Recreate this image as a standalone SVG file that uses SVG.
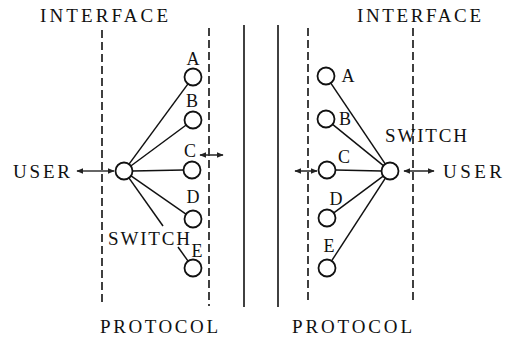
<svg xmlns="http://www.w3.org/2000/svg" width="510" height="339" viewBox="0 0 510 339">
<style>
text{font-family:"Liberation Serif","DejaVu Serif",serif;fill:#111;}
.lbl{font-size:19px;}
.let{font-size:18px;text-anchor:middle;}
.dash{stroke:#111;stroke-width:1.6;stroke-dasharray:8 4;fill:none;}
.wall{stroke:#111;stroke-width:1.6;fill:none;}
.node{fill:#fff;stroke:#111;stroke-width:1.8;}
.ln{stroke:#111;stroke-width:1.5;fill:none;}
.arr{stroke:#333;stroke-width:1.6;fill:none;marker-start:url(#ah);marker-end:url(#ah);}
</style>
<defs>
<marker id="ah" viewBox="0 0 10 10" refX="9" refY="5" markerWidth="7" markerHeight="6" markerUnits="userSpaceOnUse" orient="auto-start-reverse" preserveAspectRatio="none">
<path d="M0,0 L10,5 L0,10 Z" fill="#222"/>
</marker>
</defs>
<rect width="510" height="339" fill="#fff"/>
<g id="boundaries">
<line class="dash" x1="102" y1="30" x2="102" y2="306"/>
<line class="dash" x1="209" y1="28" x2="209" y2="306"/>
<line class="wall" x1="244" y1="25" x2="244" y2="307"/>
<line class="wall" x1="278" y1="25" x2="278" y2="307"/>
<line class="dash" x1="308" y1="28" x2="308" y2="304"/>
<line class="dash" x1="413" y1="28" x2="413" y2="304"/>
</g>
<g id="labels">
<text class="lbl" x="40" y="22" textLength="128" lengthAdjust="spacing">INTERFACE</text>
<text class="lbl" x="357" y="22" textLength="124" lengthAdjust="spacing">INTERFACE</text>
<text class="lbl" x="100" y="333" textLength="118" lengthAdjust="spacing">PROTOCOL</text>
<text class="lbl" x="292" y="333" textLength="120" lengthAdjust="spacing">PROTOCOL</text>
<text class="lbl" x="13" y="178" textLength="57" lengthAdjust="spacing">USER</text>
<text class="lbl" x="443" y="178" textLength="59" lengthAdjust="spacing">USER</text>
</g>
<g id="connectors">
<line class="ln" x1="129" y1="164.1" x2="188" y2="83.9"/>
<line class="ln" x1="130.8" y1="166" x2="186.2" y2="125"/>
<line class="ln" x1="132.5" y1="171" x2="183.5" y2="170" stroke-width="2"/>
<line class="ln" x1="131" y1="175.9" x2="186" y2="214.1"/>
<line class="ln" x1="128.9" y1="177.9" x2="163" y2="226"/>
<line class="ln" x1="178" y1="247" x2="188.1" y2="261.1"/>
<line class="ln" x1="385.2" y1="163.9" x2="330.8" y2="83.1"/>
<line class="ln" x1="383.4" y1="165.6" x2="332.6" y2="124.4"/>
<line class="ln" x1="381.5" y1="171" x2="335.5" y2="170.1"/>
<line class="ln" x1="383.2" y1="176.1" x2="333.8" y2="212.9"/>
<line class="ln" x1="385.4" y1="178.1" x2="331.6" y2="260.9"/>
<line class="arr" x1="77" y1="171" x2="114" y2="171"/>
<line class="arr" x1="200" y1="155" x2="223" y2="155"/>
<line class="arr" x1="295" y1="171" x2="317" y2="171"/>
<line class="arr" x1="404" y1="171" x2="434" y2="171"/>
</g>
<g id="switch-left">
<circle class="node" cx="124" cy="171" r="8.5"/>
<text class="lbl" x="108" y="245" textLength="82" lengthAdjust="spacing">SWITCH</text>
</g>
<g id="node-left-A"><circle class="node" cx="193" cy="77" r="8.5"/><text class="let" x="193" y="65">A</text></g>
<g id="node-left-B"><circle class="node" cx="193" cy="120" r="8.5"/><text class="let" x="192" y="107">B</text></g>
<g id="node-left-C"><circle class="node" cx="192" cy="170" r="8.5"/><text class="let" x="190" y="157">C</text></g>
<g id="node-left-D"><circle class="node" cx="193" cy="219" r="8.5"/><text class="let" x="193" y="203">D</text></g>
<g id="node-left-E"><circle class="node" cx="193" cy="268" r="8.5"/><text class="let" x="197" y="257">E</text></g>
<g id="switch-right">
<circle class="node" cx="390" cy="171" r="8.5"/>
<text class="lbl" x="385" y="142" textLength="82" lengthAdjust="spacing">SWITCH</text>
</g>
<g id="node-right-A"><circle class="node" cx="326" cy="76" r="8.5"/><text class="let" x="348" y="82">A</text></g>
<g id="node-right-B"><circle class="node" cx="326" cy="119" r="8.5"/><text class="let" x="345" y="125">B</text></g>
<g id="node-right-C"><circle class="node" cx="327" cy="170" r="8.5"/><text class="let" x="344" y="163">C</text></g>
<g id="node-right-D"><circle class="node" cx="327" cy="218" r="8.5"/><text class="let" x="336" y="205">D</text></g>
<g id="node-right-E"><circle class="node" cx="327" cy="268" r="8.5"/><text class="let" x="329" y="252">E</text></g>
</svg>
